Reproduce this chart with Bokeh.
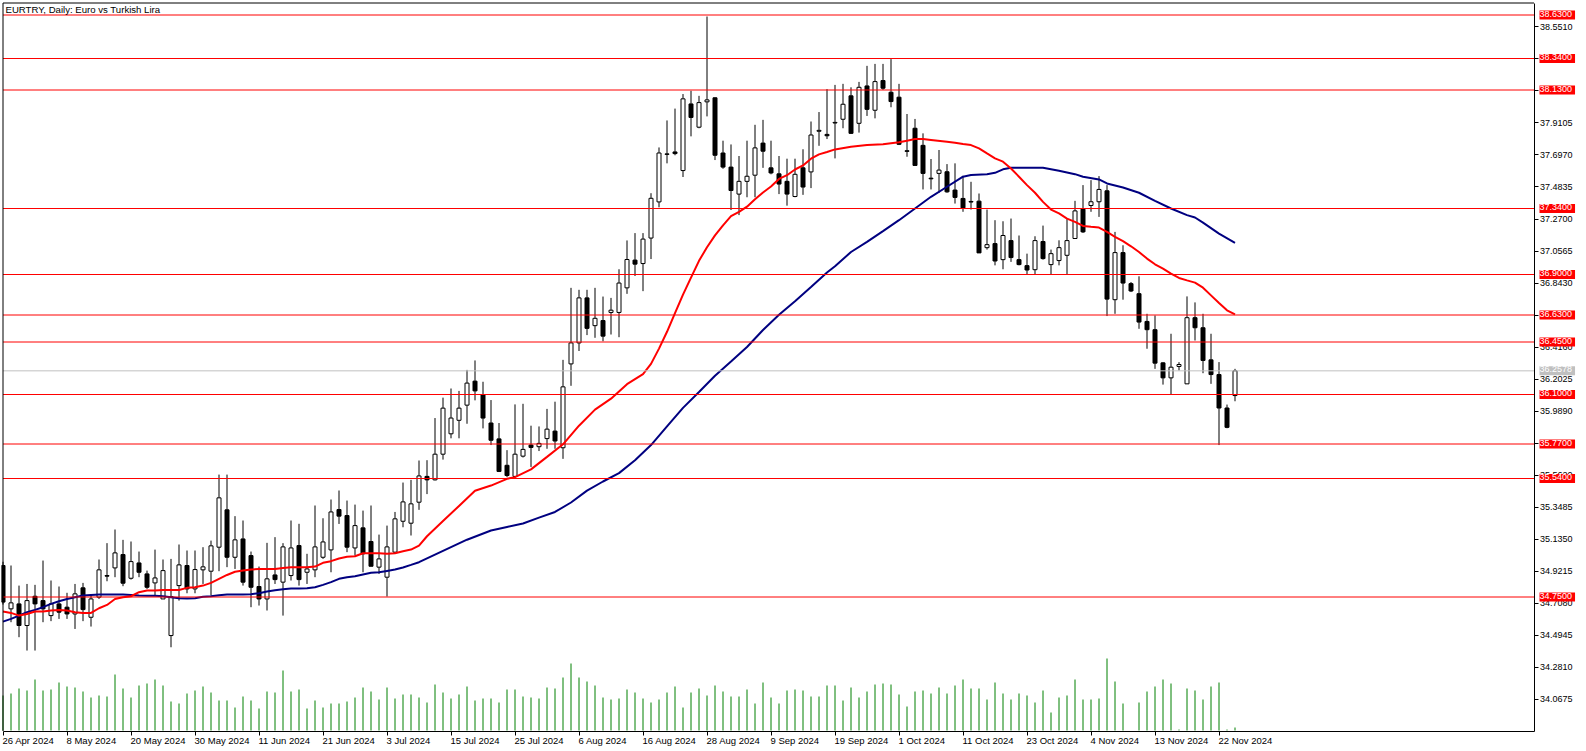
from bokeh.plotting import figure
from bokeh.models import (Range1d, FixedTicker, Label, PrintfTickFormatter, ColumnDataSource,
                          LinearAxis)
from bokeh.embed import file_html
from bokeh.resources import INLINE

chart_title = "EURTRY, Daily:  Euro vs Turkish Lira"

opens = [
    34.960, 34.671, 34.704, 34.560, 34.755, 34.726, 34.626, 34.704, 34.682, 34.637,
    34.811, 34.615, 34.749, 34.893, 34.944, 35.033, 34.875, 34.977, 34.904, 34.844,
    34.737, 34.493, 34.826, 34.960, 34.804, 34.931, 34.922, 35.082, 35.331, 35.015,
    35.137, 35.026, 34.820, 34.737, 34.897, 34.849, 34.893, 35.093, 34.915, 34.931,
    35.015, 35.064, 35.333, 35.293, 35.077, 35.211, 35.120, 34.949, 34.882, 35.049,
    35.255, 35.242, 35.382, 35.554, 35.531, 35.702, 35.838, 35.928, 36.029, 36.189,
    36.099, 35.910, 35.804, 35.628, 35.554, 35.689, 35.763, 35.752, 35.806, 35.856,
    35.745, 36.304, 36.444, 36.744, 36.559, 36.593, 36.647, 36.647, 36.811, 36.996,
    36.973, 37.143, 37.384, 37.704, 37.717, 37.593, 38.037, 37.882, 38.051, 38.078,
    37.710, 37.616, 37.436, 37.521, 37.562, 37.776, 37.611, 37.571, 37.521, 37.420,
    37.611, 37.584, 37.855, 37.834, 37.910, 37.935, 38.091, 37.908, 38.157, 37.995,
    38.193, 38.115, 38.082, 37.725, 37.875, 37.761, 37.542, 37.574, 37.585, 37.463,
    37.407, 37.387, 37.389, 37.079, 37.106, 36.999, 37.126, 36.999, 36.959, 36.932,
    37.120, 36.966, 36.993, 37.028, 37.140, 37.336, 37.360, 37.385, 37.458, 36.732,
    37.046, 36.839, 36.772, 36.587, 36.532, 36.311, 36.211, 36.287, 36.171, 36.612,
    36.545, 36.331, 36.233, 36.010, 36.093,
]
highs = [
    34.985, 34.960, 34.826, 34.837, 34.831, 34.993, 34.860, 34.820, 34.778, 34.837,
    34.844, 34.764, 35.000, 35.109, 35.200, 35.131, 35.120, 35.053, 34.926, 35.066,
    35.000, 35.004, 35.100, 35.060, 35.060, 35.082, 35.126, 35.566, 35.566, 35.289,
    35.260, 35.053, 34.953, 35.111, 35.149, 35.109, 35.260, 35.238, 35.038, 35.360,
    35.275, 35.400, 35.460, 35.393, 35.366, 35.326, 35.360, 35.166, 35.226, 35.317,
    35.513, 35.531, 35.660, 35.662, 35.943, 36.079, 36.140, 36.124, 36.264, 36.327,
    36.185, 36.063, 35.910, 35.729, 36.034, 36.038, 35.892, 35.887, 36.004, 36.052,
    36.331, 36.811, 36.798, 36.798, 36.811, 36.753, 36.744, 36.935, 37.127, 37.176,
    37.176, 37.442, 37.747, 37.927, 38.006, 38.103, 38.125, 38.091, 38.620, 38.080,
    37.792, 37.767, 37.690, 37.792, 37.898, 37.931, 37.792, 37.690, 37.672, 37.672,
    37.735, 37.920, 37.983, 38.136, 38.164, 38.171, 38.148, 38.184, 38.291, 38.304,
    38.304, 38.336, 38.171, 37.970, 37.937, 37.841, 37.670, 37.730, 37.636, 37.641,
    37.558, 37.518, 37.440, 37.333, 37.262, 37.255, 37.273, 37.160, 37.039, 37.155,
    37.226, 37.066, 37.128, 37.269, 37.391, 37.496, 37.529, 37.556, 37.496, 37.184,
    37.095, 36.850, 36.888, 36.638, 36.627, 36.315, 36.505, 36.316, 36.754, 36.714,
    36.638, 36.505, 36.316, 36.033, 36.271,
]
lows = [
    34.700, 34.582, 34.482, 34.393, 34.393, 34.582, 34.589, 34.604, 34.604, 34.537,
    34.589, 34.553, 34.737, 34.855, 34.882, 34.822, 34.866, 34.882, 34.804, 34.760,
    34.737, 34.415, 34.726, 34.775, 34.775, 34.837, 34.760, 34.922, 34.949, 34.937,
    34.826, 34.682, 34.693, 34.660, 34.837, 34.626, 34.860, 34.826, 34.837, 34.882,
    35.004, 34.915, 35.237, 35.049, 35.026, 34.915, 34.955, 34.904, 34.753, 35.044,
    35.215, 35.160, 35.331, 35.436, 35.527, 35.666, 35.808, 35.808, 35.905, 36.061,
    35.874, 35.763, 35.583, 35.549, 35.545, 35.680, 35.617, 35.723, 35.738, 35.738,
    35.671, 36.158, 36.390, 36.496, 36.478, 36.455, 36.500, 36.482, 36.771, 36.890,
    36.789, 37.003, 37.348, 37.641, 37.695, 37.550, 37.821, 37.875, 37.954, 37.663,
    37.605, 37.330, 37.296, 37.415, 37.415, 37.611, 37.568, 37.436, 37.359, 37.415,
    37.431, 37.476, 37.758, 37.803, 37.674, 37.875, 37.837, 37.846, 37.957, 37.941,
    38.131, 38.015, 37.763, 37.685, 37.627, 37.467, 37.467, 37.445, 37.445, 37.373,
    37.318, 37.333, 37.044, 37.066, 36.961, 36.935, 36.984, 36.961, 36.901, 36.899,
    36.999, 36.901, 36.961, 36.901, 37.140, 37.177, 37.318, 37.284, 36.623, 36.638,
    36.732, 36.783, 36.538, 36.405, 36.271, 36.166, 36.100, 36.260, 36.171, 36.460,
    36.242, 36.171, 35.763, 35.875, 36.055,
]
closes = [
    34.716, 34.711, 34.560, 34.726, 34.704, 34.671, 34.704, 34.649, 34.637, 34.771,
    34.666, 34.737, 34.931, 34.889, 35.044, 34.842, 34.986, 34.915, 34.815, 34.877,
    34.926, 34.753, 34.964, 34.804, 34.933, 34.951, 35.091, 35.411, 35.015, 35.131,
    34.849, 34.815, 34.737, 34.871, 34.866, 35.084, 35.077, 34.866, 34.937, 35.084,
    35.117, 35.317, 35.289, 35.082, 35.226, 35.038, 34.955, 35.004, 35.084, 35.271,
    35.384, 35.371, 35.557, 35.531, 35.702, 36.009, 35.943, 36.009, 36.176, 36.124,
    35.943, 35.795, 35.587, 35.560, 35.702, 35.734, 35.747, 35.774, 35.869, 35.790,
    36.151, 36.444, 36.744, 36.541, 36.608, 36.489, 36.662, 36.843, 37.000, 36.969,
    37.136, 37.408, 37.710, 37.701, 37.706, 38.071, 37.947, 38.046, 38.064, 37.695,
    37.616, 37.460, 37.521, 37.555, 37.744, 37.722, 37.577, 37.503, 37.436, 37.568,
    37.483, 37.830, 37.861, 37.825, 37.914, 38.035, 37.841, 38.148, 38.001, 38.186,
    38.142, 38.053, 37.768, 37.721, 37.627, 37.574, 37.538, 37.596, 37.451, 37.414,
    37.344, 37.383, 37.044, 37.099, 36.990, 37.160, 37.013, 36.966, 36.930, 37.126,
    37.006, 37.039, 37.079, 37.126, 37.324, 37.184, 37.385, 37.467, 36.736, 37.046,
    36.843, 36.790, 36.583, 36.532, 36.309, 36.211, 36.282, 36.300, 36.612, 36.545,
    36.327, 36.233, 36.010, 35.881, 36.258,
]
tick_volume = [
    35, 37, 42, 40, 51, 40, 41, 48, 44, 43,
    39, 33, 35, 34, 56, 42, 33, 45, 47, 51,
    45, 29, 27, 37, 40, 44, 38, 30, 30, 23,
    34, 30, 22, 39, 38, 60, 39, 41, 22, 30,
    23, 27, 27, 29, 33, 43, 39, 31, 43, 32,
    36, 36, 33, 28, 46, 38, 32, 36, 44, 30,
    32, 32, 28, 41, 41, 34, 33, 32, 43, 42,
    53, 67, 53, 49, 45, 33, 31, 32, 41, 38,
    32, 28, 31, 38, 44, 23, 38, 42, 35, 45,
    39, 34, 34, 41, 27, 48, 33, 27, 40, 41,
    40, 34, 34, 45, 45, 30, 43, 33, 39, 46,
    47, 46, 36, 24, 39, 40, 37, 43, 37, 45,
    51, 42, 42, 31, 48, 37, 31, 37, 35, 28,
    40, 18, 33, 35, 51, 31, 31, 32, 72, 49,
    27, 0, 28, 39, 44, 51, 47, 1, 42, 40,
    31, 44, 48, 1, 3,
]

ma_fast_idx = list(range(0, 54)) + [55, 57, 59, 61, 63, 64, 66, 68, 70, 72, 74, 76, 78, 80] + \
    list(range(81, 105)) + [106, 108, 110, 112, 113, 114, 115, 116] + list(range(118, 155))
ma_fast_val = [
    34.653, 34.644, 34.626, 34.637, 34.653, 34.653, 34.660, 34.664, 34.660, 34.649,
    34.644, 34.644, 34.675, 34.697, 34.737, 34.749, 34.755, 34.782, 34.793, 34.793,
    34.797, 34.797, 34.797, 34.811, 34.815, 34.826, 34.844, 34.871, 34.897, 34.918,
    34.926, 34.933, 34.937, 34.937, 34.937, 34.944, 34.949, 34.949, 34.949, 34.953,
    34.978, 34.989, 35.007, 35.018, 35.022, 35.042, 35.042, 35.042, 35.038, 35.042,
    35.055, 35.066, 35.093, 35.155,
    35.256, 35.357, 35.458, 35.493, 35.538, 35.549, 35.601, 35.684, 35.768, 35.892,
    35.999, 36.072, 36.169, 36.236,
    36.304, 36.406, 36.518, 36.642, 36.766, 36.879, 36.991, 37.082, 37.161, 37.228,
    37.289, 37.318, 37.352, 37.402, 37.447, 37.487, 37.537, 37.562, 37.600, 37.627,
    37.672, 37.701, 37.717, 37.734,
    37.752, 37.763, 37.768, 37.781, 37.792, 37.803, 37.803, 37.797,
    37.785, 37.779, 37.770, 37.763, 37.741, 37.707, 37.674, 37.652, 37.607, 37.552,
    37.496, 37.445, 37.384, 37.333, 37.307, 37.273, 37.251, 37.224, 37.218, 37.213,
    37.184, 37.151, 37.122, 37.088, 37.050, 37.006, 36.968, 36.939, 36.906, 36.877,
    36.861, 36.846, 36.812, 36.761, 36.710, 36.661, 36.634,
]
ma_slow_idx = list(range(0, 53)) + [58, 61, 63, 65, 67, 69, 71, 73, 75, 77, 79, 81, 83, 85, 87,
    89, 91, 93, 95, 97, 99, 101, 103, 104, 106, 108, 110, 112, 114, 116, 118, 120, 121, 123, 124,
    125, 126, 128, 130, 132, 134, 135, 137, 138, 140, 142, 144, 146, 148, 149, 150, 152, 154]
ma_slow_val = [
    34.586, 34.604, 34.626, 34.649, 34.664, 34.682, 34.704, 34.722, 34.737, 34.749,
    34.760, 34.764, 34.766, 34.766, 34.766, 34.766, 34.764, 34.760, 34.758, 34.758,
    34.755, 34.749, 34.742, 34.740, 34.742, 34.751, 34.755, 34.762, 34.766, 34.766,
    34.766, 34.769, 34.775, 34.786, 34.795, 34.802, 34.806, 34.806, 34.809, 34.815,
    34.831, 34.849, 34.871, 34.882, 34.889, 34.900, 34.911, 34.915, 34.924, 34.933,
    34.947, 34.964, 34.982,
    35.132, 35.193, 35.217, 35.240, 35.279, 35.317, 35.380, 35.459, 35.520, 35.576,
    35.662, 35.763, 35.887, 36.011, 36.117, 36.225, 36.320, 36.417, 36.530, 36.631,
    36.721, 36.816, 36.913, 36.955, 37.050, 37.117, 37.189, 37.262, 37.340, 37.418,
    37.485, 37.552, 37.563, 37.569, 37.578, 37.601, 37.612, 37.612, 37.612, 37.592,
    37.569, 37.552, 37.534, 37.507, 37.480, 37.445, 37.391, 37.340, 37.296, 37.280,
    37.246, 37.173, 37.111,
]

level_lines = [38.63, 38.34, 38.13, 37.34, 36.90, 36.63, 36.45, 36.10, 35.77, 35.54, 34.75]
bid_price = 36.2578

price_ticks = [34.0675, 34.2810, 34.4945, 34.7080, 34.9215, 35.1350, 35.3485, 35.5620,
               35.7755, 35.9890, 36.2025, 36.4160, 36.6295, 36.8430, 37.0565, 37.2700,
               37.4835, 37.6970, 37.9105, 38.1240, 38.3375, 38.5510]

date_tick_idx = [0, 8, 16, 24, 32, 40, 48, 56, 64, 72, 80, 88, 96, 104, 112, 120, 128, 136, 144, 152]
date_tick_labels = ["26 Apr 2024", "8 May 2024", "20 May 2024", "30 May 2024", "11 Jun 2024",
                    "21 Jun 2024", "3 Jul 2024", "15 Jul 2024", "25 Jul 2024", "6 Aug 2024",
                    "16 Aug 2024", "28 Aug 2024", "9 Sep 2024", "19 Sep 2024", "1 Oct 2024",
                    "11 Oct 2024", "23 Oct 2024", "4 Nov 2024", "13 Nov 2024", "22 Nov 2024"]

# ---------------------------------------------------------------- layout (screen pixels)
W, H = 1586, 751
CANVAS_L, CANVAS_T = 1, 1
BOX_L, BOX_T, BOX_R, BOX_B = 2.5, 2.5, 1533.5, 730.5
BAR_PX = 8.0
FIRST_BAR_X = 2.5
PX_PER_UNIT = 150.0
REF_PRICE, REF_Y = 38.63, 14.5

x0 = (CANVAS_L - FIRST_BAR_X) / BAR_PX
x1 = x0 + (W - CANVAS_L) / BAR_PX
y_top = REF_PRICE + (REF_Y - CANVAS_T) / PX_PER_UNIT
y_bot = y_top - (H - CANVAS_T) / PX_PER_UNIT


def sx2d(sx):
    return x0 + (sx - CANVAS_L) / BAR_PX


def sy2d(sy):
    return REF_PRICE - (sy - REF_Y) / PX_PER_UNIT


FONT = "Liberation Sans"

p = figure(width=W, height=H, output_backend="svg", toolbar_location=None,
           x_range=Range1d(x0, x1), y_range=Range1d(y_bot, y_top),
           x_axis_location=None, y_axis_location=None,
           min_border_left=CANVAS_L, min_border_right=0,
           min_border_top=CANVAS_T, min_border_bottom=0)
p.extra_y_ranges = {"vol": Range1d(-(H - BOX_B + 0.5), BOX_B - 0.5 - CANVAS_T)}
p.grid.visible = False
p.outline_line_color = None
p.background_fill_color = "white"
p.border_fill_color = "white"

idx = list(range(len(opens)))
src = ColumnDataSource(dict(
    x=idx, o=opens, h=highs, l=lows, c=closes, v=tick_volume,
    top=[max(a, b) for a, b in zip(opens, closes)],
    bottom=[min(a, b) for a, b in zip(opens, closes)],
    fill=["white" if c >= o else "black" for o, c in zip(opens, closes)],
))

p.segment(x0="x", y0=0, x1="x", y1="v", source=src, y_range_name="vol",
          line_color="#008000", line_width=1)

p.segment(x0="x", y0="l", x1="x", y1="h", source=src, line_color="black", line_width=1)
p.vbar(x="x", width=0.5, top="top", bottom="bottom", source=src,
       fill_color="fill", line_color="black", line_width=1)

p.line(ma_slow_idx, ma_slow_val, line_color="#000080", line_width=2)
p.line(ma_fast_idx, ma_fast_val, line_color="#FF0000", line_width=2)

xl, xr = sx2d(BOX_L), sx2d(BOX_R)
p.segment(x0=[xl], y0=[bid_price], x1=[xr], y1=[bid_price], line_color="#C0C0C0", line_width=1)
p.segment(x0=[xl] * len(level_lines), y0=level_lines, x1=[xr] * len(level_lines),
          y1=level_lines, line_color="#FF0000", line_width=1)

p.segment(x0=[xl, xl], y0=[sy2d(BOX_B), sy2d(BOX_T)], x1=[xl, xr], y1=[sy2d(BOX_T), sy2d(BOX_T)],
          line_color="black", line_width=1)

yax = LinearAxis(fixed_location=xr, bounds=(sy2d(BOX_B), sy2d(BOX_T)))
yax.ticker = FixedTicker(ticks=price_ticks)
yax.formatter = PrintfTickFormatter(format="%.4f")
yax.major_tick_out = 4
yax.major_tick_in = 0
yax.minor_tick_line_color = None
yax.axis_line_color = "black"
yax.major_label_standoff = 2
yax.major_label_text_font = FONT
yax.major_label_text_font_size = "9px"
yax.major_label_text_color = "black"
p.add_layout(yax, "right")

xax = LinearAxis(fixed_location=sy2d(BOX_B), bounds=(xl, xr))
xax.ticker = FixedTicker(ticks=date_tick_idx)
xax.major_label_overrides = {i: "" for i in date_tick_idx}
xax.major_label_text_font_size = "1px"
xax.major_tick_out = 4
xax.major_tick_in = 0
xax.minor_tick_line_color = None
xax.axis_line_color = "black"
p.add_layout(xax, "below")

for i, lab in zip(date_tick_idx, date_tick_labels):
    p.add_layout(Label(x=i - 0.06, y=sy2d(739.5), text=lab, text_align="left",
                       text_baseline="middle", text_font=FONT, text_font_size="9.5px",
                       text_color="black"))

tag_x = sx2d(1539)
for lv in level_lines:
    p.add_layout(Label(x=tag_x, y=lv, text=f"{lv:.4f}", text_align="left",
                       text_baseline="middle", text_font=FONT, text_font_size="9px",
                       text_color="white", background_fill_color="#FF0000",
                       padding=(0, 3, 0, 3)))
p.add_layout(Label(x=tag_x, y=bid_price, text=f"{bid_price:.4f}", text_align="left",
                   text_baseline="middle", text_font=FONT, text_font_size="9px",
                   text_color="white", background_fill_color="#C0C0C0",
                   padding=(0, 3, 0, 3)))

p.add_layout(Label(x=sx2d(5), y=sy2d(9), text=chart_title,
                   text_align="left", text_baseline="middle", text_font=FONT,
                   text_font_size="9.6px", text_color="black"))

open("out.html", "w").write(file_html(p, INLINE))
